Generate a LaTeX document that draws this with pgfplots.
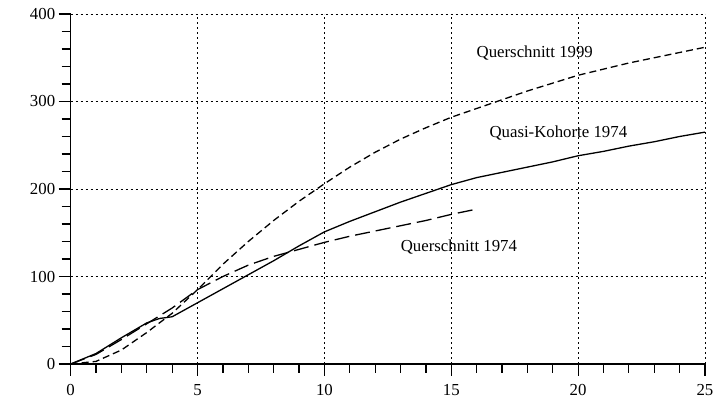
\documentclass[border=0pt]{standalone}
\usepackage{fontspec}
\setmainfont{Liberation Serif}
\usepackage{pgfplots}
\pgfplotsset{compat=1.18}

\begin{document}
\begin{tikzpicture}
\begin{axis}[
    scale only axis,
    width=634.3pt,
    height=350pt,
    xmin=0, xmax=25,
    ymin=0, ymax=400,
    axis lines=left,
    axis line style={-, line width=1.2pt},
    xtick={0,5,...,25},
    ytick={0,100,...,400},
    minor x tick num=4,
    minor y tick num=4,
    tick align=outside,
    major tick length=12pt,
    minor tick length=9pt,
    tick style={black, line width=1.2pt},
    grid=major,
    grid style={black, line width=0.9pt, dash pattern=on 2pt off 3pt},
    /pgf/number format/assume math mode=true,
    ticklabel style={font=\fontsize{16.8}{20}\selectfont},
    xticklabel style={yshift=-5pt},
    clip=false,
]

% Querschnitt 1999
\addplot[black, line width=1.3pt, dash pattern=on 7pt off 4pt] coordinates {
    (0,0) (1,3) (2,16) (3,36) (4,58) (5,85) (6,114) (7,140) (8,164) (9,186)
    (10,206) (11,225) (12,242) (13,257) (14,270) (15,282) (16,292) (17,302)
    (18,312) (19,321) (20,330) (21,337) (22,344) (23,350) (24,356) (25,362)
};

% Quasi-Kohorte 1974
\addplot[black, line width=1.3pt] coordinates {
    (0,0) (1,12) (2,30) (3,47) (3.5,52) (4,54) (5,70) (6,86) (7,102) (8,118)
    (9,135) (10,151) (11,163) (12,174) (13,185) (14,195) (15,205) (16,213)
    (17,219) (18,225) (19,231) (20,238) (21,243) (22,249) (23,254) (24,260)
    (25,265)
};

% Querschnitt 1974
\addplot[black, line width=1.3pt, dash pattern=on 15pt off 6pt] coordinates {
    (0,0) (1,11) (2,28) (3,46) (4,64) (5,85) (6,100) (7,113) (8,123) (9,131)
    (10,139) (11,146) (12,152) (13,158) (14,164) (15,171) (16,177)
};

\node[anchor=base, font=\fontsize{16.8}{20}\selectfont] at (axis cs:18.29,350.5) {Querschnitt 1999};
\node[anchor=base, font=\fontsize{16.8}{20}\selectfont] at (axis cs:19.22,259) {Quasi-Kohorte 1974};
\node[anchor=base, font=\fontsize{16.8}{20}\selectfont] at (axis cs:15.3,128.4) {Querschnitt 1974};
\end{axis}
\pgfresetboundingbox
\path[use as bounding box] (-70.7pt,-37pt) rectangle (642.3pt,364pt);
\end{tikzpicture}
\end{document}
